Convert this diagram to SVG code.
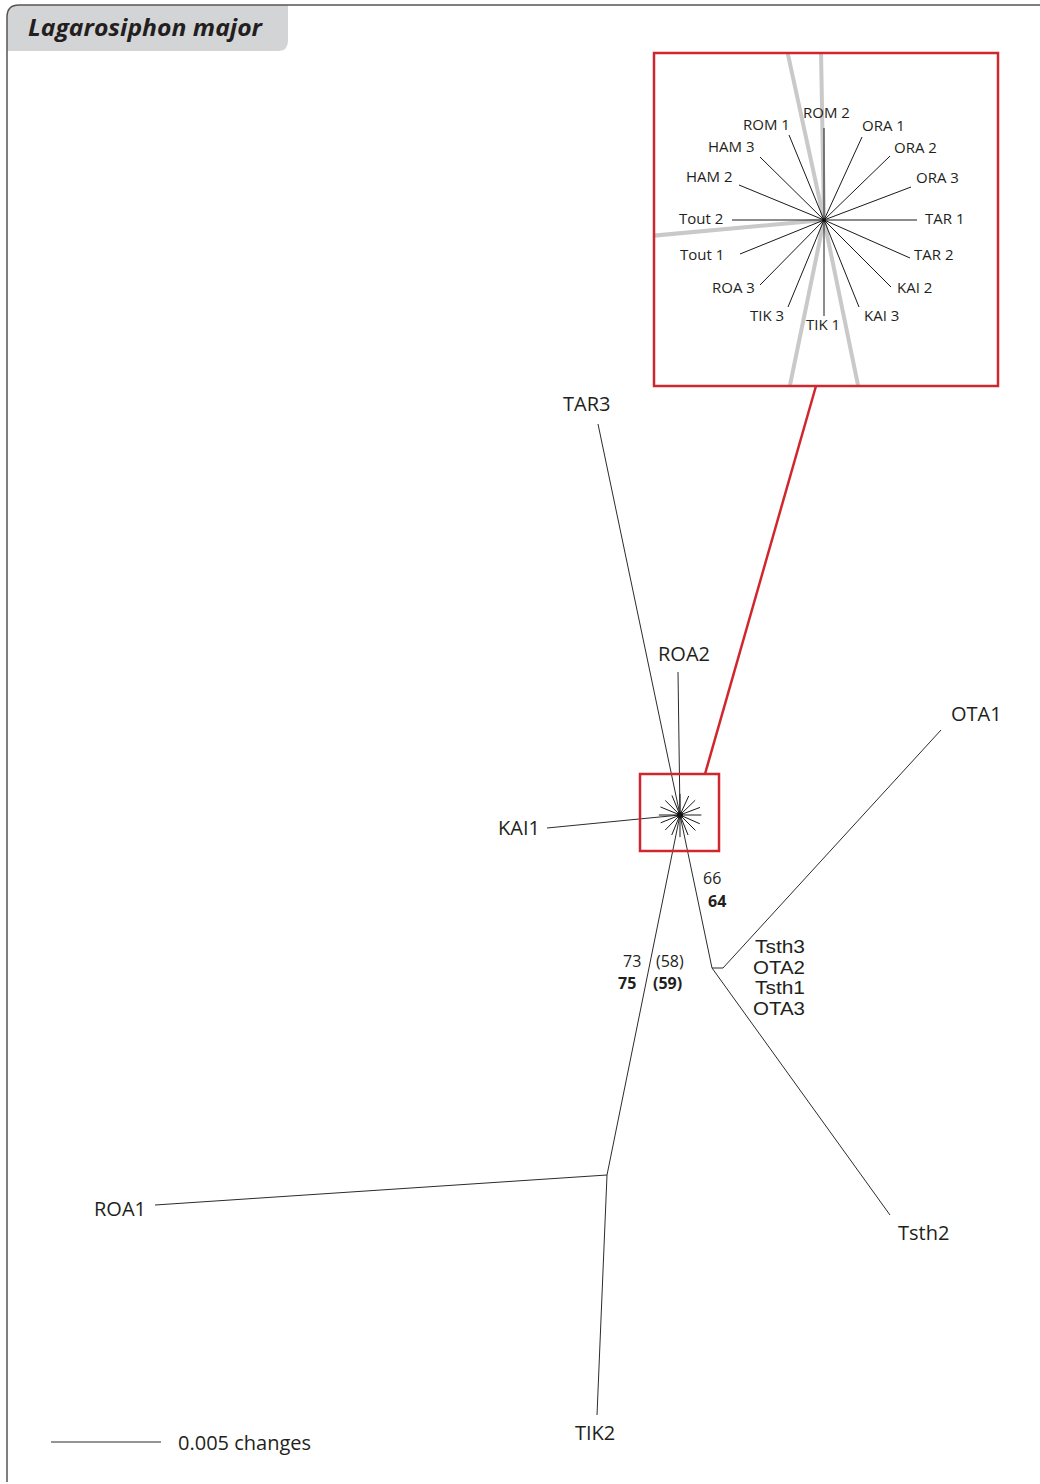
<svg xmlns="http://www.w3.org/2000/svg" xmlns:xlink="http://www.w3.org/1999/xlink" width="1040" height="1484" viewBox="0 0 1040 1484">
<style>
.lbl{font-family:"Open Sans","Liberation Sans",sans-serif;font-size:20px;fill:#231f20}
.stk{font-family:"Liberation Sans","Open Sans",sans-serif;font-size:18px;fill:#231f20}
.ins{font-family:"Open Sans","Liberation Sans",sans-serif;font-size:15px;fill:#231f20}
.num{font-family:"Open Sans","Liberation Sans",sans-serif;font-size:16px;fill:#231f20}
.b{font-weight:bold}
.br{stroke:#2b2b2b;stroke-width:1;fill:none}
.star line{stroke:#1a1a1a;stroke-width:1;vector-effect:non-scaling-stroke}
.gray{stroke:#c9c9c9;stroke-width:4;fill:none}
.red{stroke:#d0262d;stroke-width:2.5;fill:none}
</style>
<defs>
<clipPath id="insetClip"><rect x="654" y="53" width="344" height="333"/></clipPath>
<g id="star" class="star">
<line x1="824" y1="220" x2="824" y2="128"/>
<line x1="824" y1="220" x2="789" y2="135"/>
<line x1="824" y1="220" x2="760" y2="157"/>
<line x1="824" y1="220" x2="739" y2="185"/>
<line x1="824" y1="220" x2="732" y2="220"/>
<line x1="824" y1="220" x2="740" y2="254"/>
<line x1="824" y1="220" x2="760" y2="285"/>
<line x1="824" y1="220" x2="788" y2="307"/>
<line x1="824" y1="220" x2="824" y2="316"/>
<line x1="824" y1="220" x2="859" y2="307"/>
<line x1="824" y1="220" x2="891" y2="287"/>
<line x1="824" y1="220" x2="910" y2="258"/>
<line x1="824" y1="220" x2="917" y2="220"/>
<line x1="824" y1="220" x2="911" y2="187"/>
<line x1="824" y1="220" x2="890" y2="156"/>
<line x1="824" y1="220" x2="862" y2="137"/>
</g>
</defs>
<rect width="1040" height="1484" fill="#fff"/>
<g id="frame">
<path d="M7,51 L7,17 Q7,5 19,5 L288,5 L288,41 Q288,51 278,51 Z" fill="#d3d4d6"/>
<path d="M7,1482 L7,17 Q7,5 19,5 L1040,5" fill="none" stroke="#555" stroke-width="1.5"/>
<text x="28" y="36" font-family="'Open Sans','Liberation Sans',sans-serif" font-size="23" font-weight="bold" font-style="italic" fill="#231f20" textLength="234" lengthAdjust="spacingAndGlyphs">Lagarosiphon major</text>
</g>
<g id="connectors">
<line class="br" x1="598" y1="424" x2="680" y2="815"/>
<line class="br" x1="678" y1="672" x2="680" y2="815"/>
<line class="br" x1="547" y1="828" x2="680" y2="815"/>
<line class="br" x1="680" y1="815" x2="712" y2="968"/>
<polyline class="br" points="712,968 723,968 941,730"/>
<line class="br" x1="712" y1="968" x2="890" y2="1215"/>
<line class="br" x1="680" y1="815" x2="607" y2="1175"/>
<line class="br" x1="607" y1="1175" x2="155" y2="1205"/>
<line class="br" x1="607" y1="1175" x2="597" y2="1415"/>
<use xlink:href="#star" transform="translate(680,815) scale(0.23) translate(-824,-220)"/>
<circle cx="680" cy="815" r="3" fill="#111"/>
<line class="red" x1="816" y1="386" x2="705" y2="774"/>
</g>
<g id="zoom-box">
<rect class="red" x="640" y="774" width="79" height="77"/>
</g>
<g id="inset">
<g clip-path="url(#insetClip)">
<line class="gray" x1="824" y1="220" x2="787" y2="50"/>
<line class="gray" x1="824" y1="220" x2="821" y2="50"/>
<line class="gray" x1="824" y1="220" x2="650" y2="236"/>
<line class="gray" x1="824" y1="220" x2="789" y2="390"/>
<line class="gray" x1="824" y1="220" x2="859" y2="390"/>
</g>
<use xlink:href="#star"/>
<circle cx="824" cy="220" r="1.6" fill="#111"/>
<rect class="red" x="654" y="53" width="344" height="333"/>
<g id="inset-labels">
<text class="ins" x="803" y="118">ROM 2</text>
<text class="ins" x="743" y="130">ROM 1</text>
<text class="ins" x="708" y="152">HAM 3</text>
<text class="ins" x="686" y="182">HAM 2</text>
<text class="ins" x="679" y="224">Tout 2</text>
<text class="ins" x="680" y="260">Tout 1</text>
<text class="ins" x="712" y="293">ROA 3</text>
<text class="ins" x="750" y="321">TIK 3</text>
<text class="ins" x="806" y="330">TIK 1</text>
<text class="ins" x="864" y="321">KAI 3</text>
<text class="ins" x="897" y="293">KAI 2</text>
<text class="ins" x="914" y="260">TAR 2</text>
<text class="ins" x="925" y="224">TAR 1</text>
<text class="ins" x="916" y="183">ORA 3</text>
<text class="ins" x="894" y="153">ORA 2</text>
<text class="ins" x="862" y="131">ORA 1</text>
</g>
</g>
<g id="node-TAR3"><text class="lbl" x="563" y="411">TAR3</text></g>
<g id="node-ROA2"><text class="lbl" x="658" y="661">ROA2</text></g>
<g id="node-OTA1"><text class="lbl" x="951" y="721">OTA1</text></g>
<g id="node-KAI1"><text class="lbl" x="498" y="835">KAI1</text></g>
<g id="node-Tsth-OTA">
<text class="stk" x="755" y="953" textLength="50" lengthAdjust="spacingAndGlyphs">Tsth3</text>
<text class="stk" x="753" y="973.5" textLength="52" lengthAdjust="spacingAndGlyphs">OTA2</text>
<text class="stk" x="755" y="994" textLength="50" lengthAdjust="spacingAndGlyphs">Tsth1</text>
<text class="stk" x="753" y="1014.5" textLength="52" lengthAdjust="spacingAndGlyphs">OTA3</text>
</g>
<g id="node-ROA1"><text class="lbl" x="94" y="1216">ROA1</text></g>
<g id="node-Tsth2"><text class="lbl" x="898" y="1240">Tsth2</text></g>
<g id="node-TIK2"><text class="lbl" x="575" y="1440">TIK2</text></g>
<g id="support">
<text class="num" x="703" y="884">66</text>
<text class="num b" x="708" y="907">64</text>
<text class="num" x="623" y="967">73</text>
<text class="num" x="656" y="967">(58)</text>
<text class="num b" x="618" y="989">75</text>
<text class="num b" x="653" y="989">(59)</text>
</g>
<g id="scale">
<line x1="51" y1="1442" x2="161" y2="1442" stroke="#2b2b2b" stroke-width="1"/>
<text class="lbl" x="178" y="1450">0.005 changes</text>
</g>
</svg>
